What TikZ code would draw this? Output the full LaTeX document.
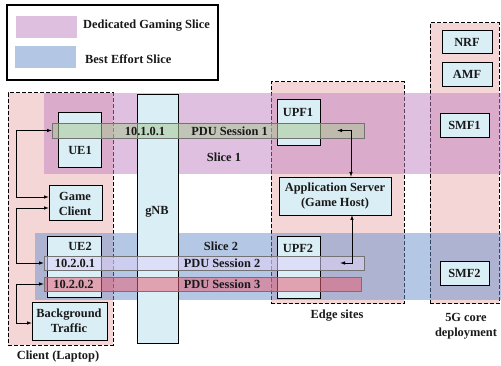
\documentclass[tikz,border=0pt]{standalone}
\usepackage{fontspec}
\setmainfont{Liberation Serif}
\usetikzlibrary{arrows.meta,calc}
\definecolor{nodefill}{RGB}{217,238,245}
\definecolor{pinkbox}{RGB}{245,214,214}
\definecolor{sliceP}{RGB}{193,129,193}
\definecolor{sliceB}{RGB}{105,145,205}
\definecolor{pduA}{RGB}{170,200,150}
\definecolor{pduB}{RGB}{225,210,250}
\definecolor{pduC}{RGB}{230,100,120}
\newcommand\rectnode[6]{\node[#2, minimum width={#5-#3}, minimum height={#6-#4}] (#1) at ({(#3+#5)/2},{(#4+#6)/2}) {};}
\tikzset{
  base/.style={inner sep=0pt, outer sep=0pt},
  txt/.style={font=\fontsize{12.4}{15}\selectfont\bfseries, inner sep=0pt, align=center, text=black!90},
  legendbox/.style={base, draw, line width=1.2pt, fill=white},
  region/.style={base, draw, line width=1pt, dash pattern=on 4pt off 2pt, fill=pinkbox},
  sliceband/.style={base, fill=#1, fill opacity=0.5},
  comp/.style={base, draw, line width=0.9pt, fill=nodefill},
  pdubar/.style={base, draw=black!55, line width=0.8pt, fill=#1, fill opacity=0.55},
  conn/.style={line width=0.8pt, {Latex[length=5pt,width=3.5pt]}-{Latex[length=5pt,width=3.5pt]}},
}
\begin{document}
\begin{tikzpicture}[x=1pt,y=-1pt]
\useasboundingbox (0,0) rectangle (501,366);
% legend
\rectnode{legend}{legendbox}{7}{5}{218}{80}
\rectnode{swP}{sliceband=sliceP}{16}{16}{77}{38}
\rectnode{swB}{sliceband=sliceB}{15}{46}{76}{68}
\node[txt, anchor=west] (lgP) at (83,26) {Dedicated Gaming Slice};
\node[txt, anchor=west] (lgB) at (85,59) {Best Effort Slice};
% dashed regions
\rectnode{client}{region}{8}{93}{113}{345}
\rectnode{edge}{region}{271}{82}{404}{304}
\rectnode{core}{region}{430}{23}{499}{304}
% slices
\rectnode{slice1}{sliceband=sliceP}{44}{93}{501}{174}
\rectnode{slice2}{sliceband=sliceB}{35}{233}{501}{300}
% components
\rectnode{gnb}{comp}{137}{94}{178}{343}
\rectnode{ue1}{comp}{58}{112}{101}{167}
\rectnode{game}{comp}{49}{185}{102}{220}
\rectnode{ue2}{comp}{47}{236}{101}{297}
\rectnode{bg}{comp}{32}{302}{107}{340}
\rectnode{upf1}{comp}{277}{99}{320}{145}
\rectnode{app}{comp}{279}{177}{391}{215}
\rectnode{upf2}{comp}{277}{236}{320}{298}
\rectnode{nrf}{comp}{442}{30}{492}{53}
\rectnode{amf}{comp}{442}{62}{492}{86}
\rectnode{smf1}{comp}{440}{113}{489}{137}
\rectnode{smf2}{comp}{440}{261}{489}{285}
% PDU sessions
\rectnode{pdu1}{pdubar=pduA}{52}{123}{364}{138}
\rectnode{pdu2}{pdubar=pduB}{44}{256}{364}{270}
\rectnode{pdu3}{pdubar=pduC}{44}{277}{361}{291}
% texts
\node[txt] (ue1t) at (80,150) {UE1};
\node[txt] (gamet) at (75,203.5) {Game\\Client};
\node[txt] (ue2t) at (80,246) {UE2};
\node[txt] (bgt) at (69,321) {Background\\Traffic};
\node[txt] (gnbt) at (157,212) {gNB};
\node[txt] (upf1t) at (298,112) {UPF1};
\node[txt] (upf2t) at (298,248) {UPF2};
\node[txt] (appt) at (335,196.5) {Application Server\\(Game Host)};
\node[txt] (nrft) at (467,42) {NRF};
\node[txt] (amft) at (467,74) {AMF};
\node[txt] (smf1t) at (464.5,125) {SMF1};
\node[txt] (smf2t) at (464.5,273) {SMF2};
\node[txt] (ip1) at (145,131) {10.1.0.1};
\node[txt] (pdu1t) at (229.5,131) {PDU Session 1};
\node[txt] (ip2) at (75,263) {10.2.0.1};
\node[txt] (pdu2t) at (222,263) {PDU Session 2};
\node[txt] (ip3) at (73.5,284) {10.2.0.2};
\node[txt] (pdu3t) at (222,284) {PDU Session 3};
\node[txt] (s1t) at (224,157) {Slice 1};
\node[txt] (s2t) at (221,246) {Slice 2};
\node[txt] (clientt) at (58,357) {Client (Laptop)};
\node[txt] (edget) at (337,316) {Edge sites};
\node[txt] (coret) at (466,326) {5G core\\deployment};
% connectors
\coordinate (t1) at (337,130.5);
\coordinate (t2) at (340,263);
\draw[conn] (pdu1.west) -- ++(-36,0) |- ([yshift=5.5pt]game.west);
\draw[conn] ([yshift=-5.5pt]game.west) -- ++(-33,0) |- (pdu2.west);
\draw[conn] (pdu3.west) -- ++(-28,0) |- ([yshift=-2pt]bg.west);
\draw[conn] (t1) -| ([xshift=16pt]app.north);
\draw[conn] (t2) -| ([xshift=17pt]app.south);
\end{tikzpicture}
\end{document}
